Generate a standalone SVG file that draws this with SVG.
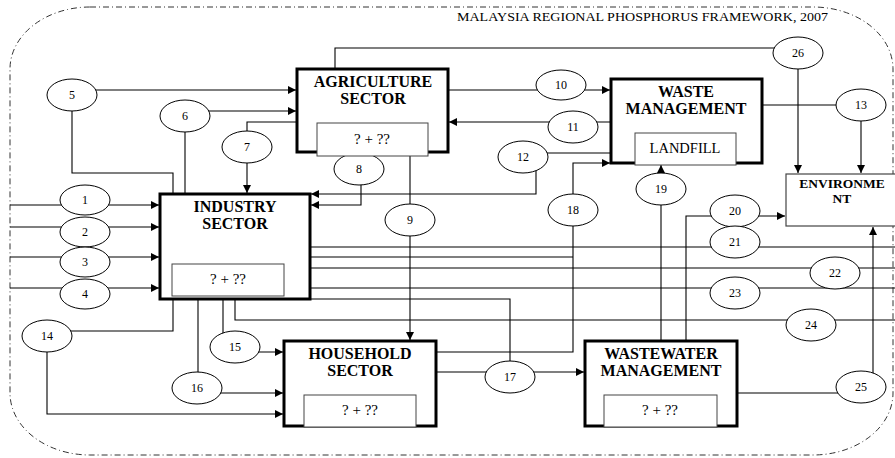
<svg xmlns="http://www.w3.org/2000/svg" width="895" height="458" viewBox="0 0 895 458">
<style>
text{font-family:"Liberation Serif","Times New Roman",serif;fill:#000}
.n{font-size:12px;text-anchor:middle}
.t{font-size:16px;font-weight:bold;text-anchor:middle}
.q{font-size:15px;text-anchor:middle}
.box{fill:#fff;stroke:#000;stroke-width:3}
.inner{fill:#fff;stroke:#444;stroke-width:1}
.ell{fill:#fff;stroke:#000;stroke-width:1}
.c{fill:none;stroke:#000;stroke-width:1.1}
.a{marker-end:url(#ah)}
</style>
<defs>
<marker id="ah" markerUnits="userSpaceOnUse" markerWidth="9" markerHeight="8" refX="8" refY="4" orient="auto">
<path d="M0,0 L8,4 L0,8 z" fill="#000"/>
</marker>
</defs>
<rect x="10" y="7" width="883" height="448" rx="80" ry="62" fill="none" stroke="#333" stroke-width="1" stroke-dasharray="6,3,1,3"/>
<text x="828" y="21" font-size="11.5" text-anchor="end" textLength="371" lengthAdjust="spacingAndGlyphs">MALAYSIA REGIONAL PHOSPHORUS FRAMEWORK, 2007</text>
<g id="connectors">
<path class="c a" d="M10,205 H159"/>
<path class="c a" d="M10,227 H159"/>
<path class="c a" d="M10,257 H159"/>
<path class="c a" d="M10,288 H159"/>
<path class="c a" d="M72,90 H296"/>
<path class="c" d="M72,95 V173 H173 V194"/>
<path class="c a" d="M185,111 H296"/>
<path class="c" d="M185,116 V194"/>
<path class="c a" d="M297,122 H247 V193"/>
<path class="c a" d="M361,168 V205 H311"/>
<path class="c a" d="M410,155 V340"/>
<path class="c a" d="M448,90 H610"/>
<path class="c a" d="M611,122 H449"/>
<path class="c a" d="M611,153 H536 V194 H311"/>
<path class="c" d="M762,105 H861"/>
<path class="c a" d="M861,105 V173"/>
<path class="c a" d="M335,69 V48 H798 V173"/>
<path class="c a" d="M436,352 H573 V163 H610"/>
<path class="c" d="M310,257 H573"/>
<path class="c a" d="M661,341 V165"/>
<path class="c a" d="M686,341 V216 H785"/>
<path class="c" d="M310,247 H895"/>
<path class="c" d="M310,268 H895"/>
<path class="c" d="M310,288 H895"/>
<path class="c" d="M235,299 V320 H895"/>
<path class="c" d="M310,299 H510 V365"/>
<path class="c a" d="M436,372 H584"/>
<path class="c" d="M173,299 V331 H60"/>
<path class="c a" d="M47,340 V414 H283"/>
<path class="c" d="M223,299 V340"/>
<path class="c a" d="M240,352 H283"/>
<path class="c" d="M198,299 V380"/>
<path class="c a" d="M205,393 H283"/>
<path class="c" d="M737,393 H850"/>
<path class="c a" d="M873,380 V227"/>
</g>
<g id="e1"><ellipse class="ell" cx="85" cy="200" rx="25" ry="15"/><text class="n" x="85" y="204">1</text></g>
<g id="e2"><ellipse class="ell" cx="85" cy="232" rx="25" ry="15"/><text class="n" x="85" y="236">2</text></g>
<g id="e3"><ellipse class="ell" cx="85" cy="262" rx="25" ry="15"/><text class="n" x="85" y="266">3</text></g>
<g id="e4"><ellipse class="ell" cx="85" cy="294" rx="25" ry="15"/><text class="n" x="85" y="298">4</text></g>
<g id="e5"><ellipse class="ell" cx="72" cy="95" rx="25" ry="16"/><text class="n" x="72" y="99">5</text></g>
<g id="e6"><ellipse class="ell" cx="185" cy="116" rx="25" ry="16"/><text class="n" x="185" y="120">6</text></g>
<g id="e7"><ellipse class="ell" cx="247" cy="147" rx="25" ry="16"/><text class="n" x="247" y="151">7</text></g>
<g id="e8"><ellipse class="ell" cx="359" cy="169" rx="25" ry="16"/><text class="n" x="359" y="173">8</text></g>
<g id="e9"><ellipse class="ell" cx="410" cy="220" rx="25" ry="16"/><text class="n" x="410" y="224">9</text></g>
<g id="e10"><ellipse class="ell" cx="561" cy="85" rx="25" ry="15"/><text class="n" x="561" y="89">10</text></g>
<g id="e11"><ellipse class="ell" cx="573" cy="127" rx="25" ry="16"/><text class="n" x="573" y="131">11</text></g>
<g id="e12"><ellipse class="ell" cx="523" cy="157" rx="25" ry="16"/><text class="n" x="523" y="161">12</text></g>
<g id="e13"><ellipse class="ell" cx="861" cy="105" rx="25" ry="16"/><text class="n" x="861" y="109">13</text></g>
<g id="e14"><ellipse class="ell" cx="47" cy="336" rx="25" ry="16"/><text class="n" x="47" y="340">14</text></g>
<g id="e15"><ellipse class="ell" cx="235" cy="347" rx="25" ry="16"/><text class="n" x="235" y="351">15</text></g>
<g id="e16"><ellipse class="ell" cx="197" cy="388" rx="25" ry="16"/><text class="n" x="197" y="392">16</text></g>
<g id="e17"><ellipse class="ell" cx="510" cy="377" rx="25" ry="16"/><text class="n" x="510" y="381">17</text></g>
<g id="e18"><ellipse class="ell" cx="573" cy="210" rx="25" ry="16"/><text class="n" x="573" y="214">18</text></g>
<g id="e19"><ellipse class="ell" cx="661" cy="189" rx="25" ry="16"/><text class="n" x="661" y="193">19</text></g>
<g id="e20"><ellipse class="ell" cx="735" cy="211" rx="25" ry="16"/><text class="n" x="735" y="215">20</text></g>
<g id="e21"><ellipse class="ell" cx="735" cy="242" rx="25" ry="16"/><text class="n" x="735" y="246">21</text></g>
<g id="e22"><ellipse class="ell" cx="835" cy="273" rx="25" ry="16"/><text class="n" x="835" y="277">22</text></g>
<g id="e23"><ellipse class="ell" cx="735" cy="293" rx="25" ry="16"/><text class="n" x="735" y="297">23</text></g>
<g id="e24"><ellipse class="ell" cx="811" cy="325" rx="25" ry="16"/><text class="n" x="811" y="329">24</text></g>
<g id="e25"><ellipse class="ell" cx="861" cy="387" rx="25" ry="16"/><text class="n" x="861" y="391">25</text></g>
<g id="e26"><ellipse class="ell" cx="798" cy="53" rx="25" ry="16"/><text class="n" x="798" y="57">26</text></g>
<g id="agriculture">
<rect class="box" x="297" y="69" width="151" height="83"/>
<text class="t" x="373" y="87">AGRICULTURE</text>
<text class="t" x="373" y="104">SECTOR</text>
<rect class="inner" x="317" y="123" width="111" height="33"/>
<text class="q" x="372" y="144">? + ??</text>
</g>
<g id="waste">
<rect class="box" x="611" y="79" width="151" height="84"/>
<text class="t" x="686" y="97">WASTE</text>
<text class="t" x="686" y="114">MANAGEMENT</text>
<rect class="inner" x="635" y="133" width="101" height="32"/>
<text x="685" y="153" font-size="14.5" text-anchor="middle">LANDFILL</text>
</g>
<g id="environment">
<rect x="786" y="174" width="112" height="52" fill="#fff" stroke="#444" stroke-width="1.2"/>
<text x="842" y="188" font-size="13.5" font-weight="bold" text-anchor="middle">ENVIRONME</text>
<text x="842" y="203" font-size="13.5" font-weight="bold" text-anchor="middle">NT</text>
</g>
<g id="industry">
<rect class="box" x="160" y="194" width="150" height="105"/>
<text class="t" x="235" y="212">INDUSTRY</text>
<text class="t" x="235" y="229">SECTOR</text>
<rect class="inner" x="172" y="264" width="112" height="32"/>
<text class="q" x="228" y="284">? + ??</text>
</g>
<g id="household">
<rect class="box" x="284" y="341" width="152" height="85"/>
<text class="t" x="360" y="359">HOUSEHOLD</text>
<text class="t" x="360" y="376">SECTOR</text>
<rect class="inner" x="304" y="395" width="112" height="32"/>
<text class="q" x="360" y="415">? + ??</text>
</g>
<g id="wastewater">
<rect class="box" x="585" y="341" width="152" height="85"/>
<text class="t" x="661" y="359">WASTEWATER</text>
<text class="t" x="661" y="376">MANAGEMENT</text>
<rect class="inner" x="604" y="395" width="113" height="32"/>
<text class="q" x="660" y="415">? + ??</text>
</g>
</svg>
